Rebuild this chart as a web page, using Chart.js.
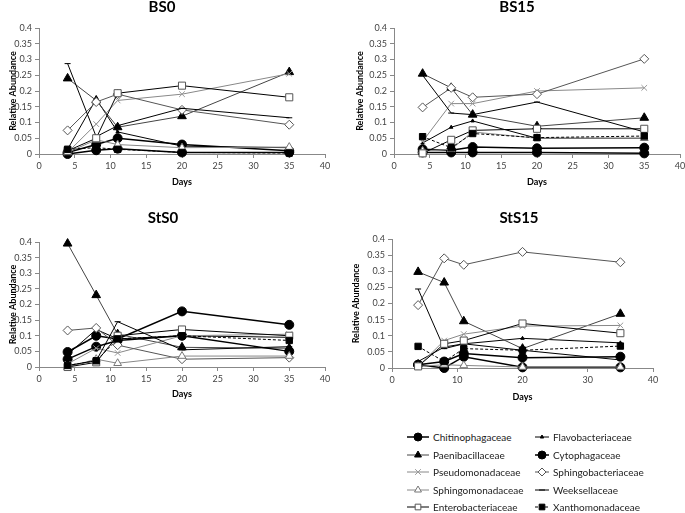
<!DOCTYPE html>
<html>
<head>
<meta charset="utf-8">
<title>Relative abundance by family</title>
<script src="https://cdn.jsdelivr.net/npm/chart.js@4.4.1/dist/chart.umd.min.js"></script>
<style>
  body { margin: 0; background: #fff; width: 685px; height: 513px; overflow: hidden; position: relative; font-family: Lato, "Open Sans", sans-serif; }
  canvas { position: absolute; }
  .lg-item { position: absolute; height: 14px; display: flex; align-items: center; font-size: 10px; color: #222; white-space: nowrap; }
  .lg-item canvas { position: static; margin-right: 2px; }
</style>
</head>
<body>
<canvas id="bs0"></canvas>
<canvas id="bs15"></canvas>
<canvas id="sts0"></canvas>
<canvas id="sts15"></canvas>
<div id="legend"></div>

<script>
// Sampling days (x axis)
const days = [4, 8, 11, 20, 35];

// Families, in legend order
const families = [
    'Chitinophagaceae', 'Flavobacteriaceae',
    'Paenibacillaceae', 'Cytophagaceae',
    'Pseudomonadaceae', 'Sphingobacteriaceae',
    'Sphingomonadaceae', 'Weeksellaceae',
    'Enterobacteriaceae', 'Xanthomonadaceae'
];

// Relative abundance, one row per family (same order as families)
const bs0 = [
    [0.005, 0.03, 0.05, 0.03, 0.01],
    [0.015, 0.175, 0.07, 0.025, 0.02],
    [0.24, 0.17, 0.085, 0.12, 0.26],
    [0.0, 0.012, 0.017, 0.005, 0.005],
    [0.005, 0.095, 0.17, 0.19, 0.255],
    [0.075, 0.165, 0.19, 0.14, 0.093],
    [0.005, 0.045, 0.03, 0.02, 0.022],
    [0.287, 0.055, 0.09, 0.145, 0.115],
    [0.01, 0.05, 0.193, 0.217, 0.18],
    [0.015, 0.02, 0.015, 0.005, 0.003]
];

const bs15 = [
    [0.015, 0.012, 0.022, 0.018, 0.02],
    [0.035, 0.085, 0.105, 0.05, 0.05],
    [0.255, 0.21, 0.125, 0.088, 0.115],
    [0.005, 0.005, 0.005, 0.005, 0.002],
    [0.04, 0.16, 0.16, 0.2, 0.21],
    [0.148, 0.21, 0.18, 0.19, 0.302],
    [0.01, 0.015, 0.07, 0.05, 0.05],
    [0.25, 0.13, 0.125, 0.165, 0.07],
    [0.002, 0.045, 0.075, 0.08, 0.08],
    [0.055, 0.02, 0.065, 0.052, 0.057]
];

const sts0 = [
    [0.048, 0.1, 0.09, 0.178, 0.135],
    [0.04, 0.12, 0.09, 0.1, 0.095],
    [0.395, 0.23, 0.105, 0.063, 0.06],
    [0.025, 0.065, 0.085, 0.1, 0.05],
    [0.01, 0.06, 0.045, 0.1, 0.105],
    [0.117, 0.125, 0.07, 0.025, 0.03],
    [0.0, 0.025, 0.012, 0.035, 0.035],
    [0.005, 0.02, 0.145, 0.055, 0.065],
    [0.0, 0.015, 0.1, 0.12, 0.1],
    [0.005, 0.02, 0.09, 0.1, 0.085]
];

const sts15 = [
    [0.01, 0.02, 0.045, 0.032, 0.035],
    [0.02, 0.065, 0.075, 0.092, 0.078],
    [0.298, 0.265, 0.145, 0.06, 0.168],
    [0.01, 0.0, 0.035, 0.002, 0.002],
    [0.005, 0.085, 0.105, 0.13, 0.132],
    [0.195, 0.34, 0.32, 0.36, 0.328],
    [0.005, 0.01, 0.008, 0.003, 0.003],
    [0.245, 0.06, 0.075, 0.055, 0.025],
    [0.005, 0.075, 0.085, 0.138, 0.108],
    [0.067, 0.02, 0.06, 0.055, 0.068]
];

// Series styles (same order as families)
const lineColors   = ['#000', '#000', '#444', '#000', '#888', '#555', '#888', '#000', '#000', '#000'];
const lineWidths   = [1.5, 1, 1, 1.5, 1, 1, 1, 1, 1, 1];
const lineDashes   = [[], [], [], [], [], [], [], [], [], [3, 2]];
const markers      = ['circle', 'triangle', 'triangle', 'circle', 'crossRot', 'rectRot', 'triangle', 'line', 'rect', 'rect'];
const markerSizes  = [4.5, 2, 5, 4.5, 4, 4.5, 4.5, 3, 5, 4.5];
const markerFills  = ['#000', '#000', '#000', '#000', '#999', '#fff', '#fff', '#000', '#fff', '#000'];
const markerEdges  = ['#000', '#000', '#000', '#000', '#999', '#555', '#777', '#000', '#555', '#000'];

// Panel placement on the page (plot area edges, title and axis-title spots)
const panels = [
    { id: 'bs0',   title: 'BS0',   rows: bs0,   titleX: 162, titleY: 7,   left: 39,  right: 325, top: 28,  bottom: 154, yTitleX: 13,  daysY: 182, step: 5 },
    { id: 'bs15',  title: 'BS15',  rows: bs15,  titleX: 517, titleY: 7,   left: 394, right: 680, top: 28,  bottom: 154, yTitleX: 360, daysY: 182, step: 5 },
    { id: 'sts0',  title: 'StS0',  rows: sts0,  titleX: 163, titleY: 218, left: 39,  right: 325, top: 242, bottom: 367, yTitleX: 13,  daysY: 394, step: 5 },
    { id: 'sts15', title: 'StS15', rows: sts15, titleX: 519, titleY: 218, left: 392, right: 653, top: 239, bottom: 368, yTitleX: 356, daysY: 397, step: 10 }
];

const FONT = 'Lato, "Open Sans", sans-serif';
const TITLE_SIZE = 15;
const X_BOX = 45;

// 0.4, 0.35, 0.3 ... like the spreadsheet labels
function shortNumber(value) {
    return String(Math.round(value * 100) / 100);
}

function buildDatasets(rows) {
    return families.map((name, i) => ({
        label: name,
        data: days.map((d, j) => ({ x: d, y: rows[i][j] })),
        borderColor: lineColors[i],
        borderWidth: lineWidths[i],
        borderDash: lineDashes[i],
        pointStyle: markers[i],
        pointRadius: markerSizes[i],
        pointBackgroundColor: markerFills[i],
        pointBorderColor: markerEdges[i],
        pointBorderWidth: 1,
        tension: 0,
        fill: false,
        clip: false,
        order: families.length - i
    }));
}

function makePanel(p) {
    const canvas = document.getElementById(p.id);
    const W = 2 * Math.max(p.titleX - (p.yTitleX - 10), p.right + 10 - p.titleX);
    const L = p.titleX - W / 2;
    const T = p.titleY - TITLE_SIZE * 0.6;
    const H = p.bottom - T + X_BOX;
    canvas.width = W;
    canvas.height = H;
    canvas.style.left = L + 'px';
    canvas.style.top = T + 'px';

    const daysPad = X_BOX - (p.daysY - p.bottom) - 5.4;
    const yTitlePad = p.yTitleX - L - 5.4;

    new Chart(canvas.getContext('2d'), {
        type: 'line',
        data: { datasets: buildDatasets(p.rows) },
        options: {
            responsive: false,
            animation: false,
            layout: { padding: 0 },
            plugins: {
                legend: { display: false },
                tooltip: { enabled: false },
                title: {
                    display: true,
                    text: p.title,
                    color: '#000',
                    font: { family: FONT, size: TITLE_SIZE, weight: 'bold', lineHeight: 1.2 },
                    padding: { top: 0, bottom: (p.top - T) - TITLE_SIZE * 1.2 }
                }
            },
            scales: {
                x: {
                    type: 'linear',
                    min: 0,
                    max: 40,
                    ticks: { stepSize: p.step, color: '#444', padding: 3, font: { family: FONT, size: 9 } },
                    grid: { drawOnChartArea: false, drawTicks: true, tickLength: 4, color: '#888' },
                    border: { color: '#888' },
                    title: {
                        display: true,
                        text: 'Days',
                        color: '#000',
                        font: { family: FONT, size: 9, weight: 'bold', lineHeight: 1.2 },
                        padding: { top: daysPad, bottom: daysPad }
                    },
                    afterFit: function(scale) {
                        scale.height = X_BOX;
                        scale.paddingLeft = 0;
                        scale.paddingRight = (L + W) - p.right;
                    }
                },
                y: {
                    min: 0,
                    max: 0.4,
                    ticks: {
                        stepSize: 0.05,
                        color: '#444',
                        padding: 3,
                        font: { family: FONT, size: 9 },
                        callback: shortNumber
                    },
                    grid: { drawOnChartArea: false, drawTicks: true, tickLength: 4, color: '#888' },
                    border: { color: '#888' },
                    title: {
                        display: true,
                        text: 'Relative Abundance',
                        color: '#000',
                        font: { family: FONT, size: 9, weight: 'bold', lineHeight: 1.2 },
                        padding: { top: yTitlePad, bottom: yTitlePad }
                    },
                    afterFit: function(scale) {
                        scale.width = p.left - L;
                    }
                }
            }
        }
    });
}

panels.forEach(makePanel);

// Legend: two columns, filled row by row
const legendCols = [
    { lineX: 407, lineW: 22, textGap: 2 },
    { lineX: 535, lineW: 14, textGap: 2 }
];
const legendTop = 437;
const legendStep = 17.5;

const legend = document.getElementById('legend');
families.forEach((name, i) => {
    const col = legendCols[i % 2];
    const row = Math.floor(i / 2);
    const item = document.createElement('div');
    item.className = 'lg-item';
    item.style.left = col.lineX + 'px';
    item.style.top = (legendTop + row * legendStep - 7) + 'px';

    const c = document.createElement('canvas');
    c.width = col.lineW;
    c.height = 12;
    const ctx = c.getContext('2d');
    ctx.strokeStyle = lineColors[i];
    ctx.lineWidth = lineWidths[i];
    ctx.setLineDash(lineDashes[i]);
    ctx.beginPath();
    ctx.moveTo(0, 6);
    ctx.lineTo(col.lineW, 6);
    ctx.stroke();
    ctx.setLineDash([]);
    ctx.fillStyle = markerFills[i];
    ctx.strokeStyle = markerEdges[i];
    ctx.lineWidth = 1;
    Chart.helpers.drawPoint(ctx, {
        pointStyle: markers[i],
        radius: Math.min(markerSizes[i], 4),
        rotation: 0,
        borderWidth: 1
    }, col.lineW / 2, 6);

    const label = document.createElement('span');
    label.textContent = name;
    label.style.marginLeft = col.textGap + 'px';

    item.appendChild(c);
    item.appendChild(label);
    legend.appendChild(item);
});
</script>
</body>
</html>
